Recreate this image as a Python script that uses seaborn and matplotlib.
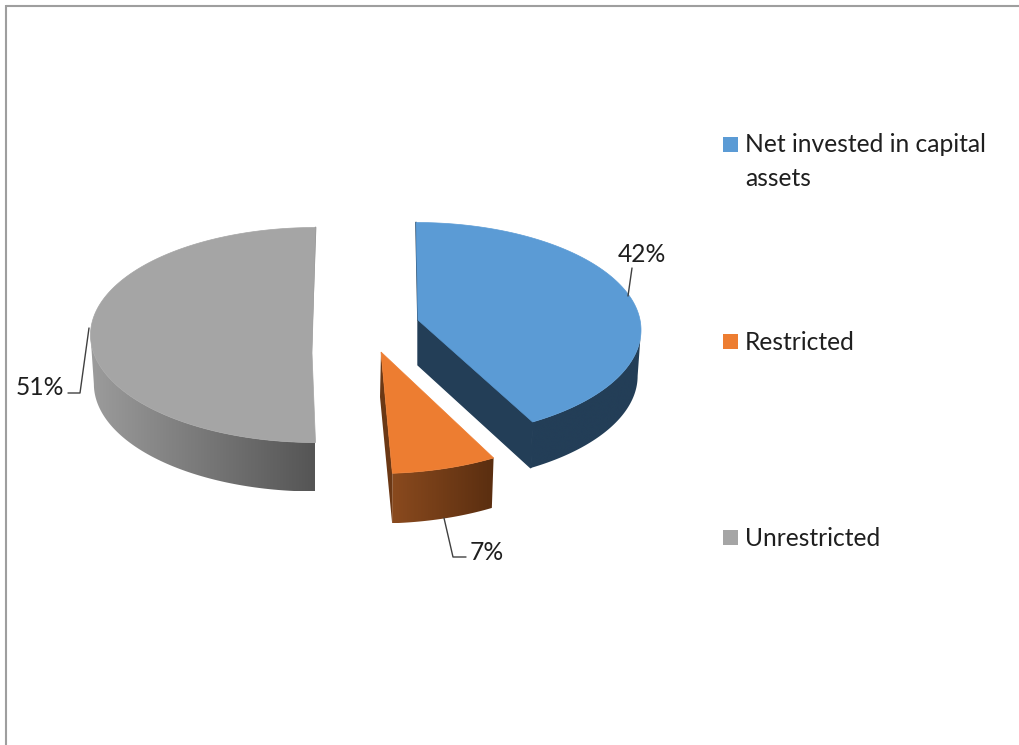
import numpy as np
import matplotlib
matplotlib.use("Agg")
import matplotlib.pyplot as plt
from matplotlib.colors import LinearSegmentedColormap
from matplotlib.patches import Polygon, Rectangle
import seaborn as sns

# Net position shares
categories = ["Net invested in capital\nassets", "Restricted", "Unrestricted"]
shares = [42, 7, 51]
value_labels = ["42%", "7%", "51%"]

sns.set_theme(style="white")
plt.rcParams["font.family"] = ["Lato", "DejaVu Sans"]
palette = sns.color_palette(["#5B9BD5", "#ED7D31", "#A5A5A5"])

# Side shading per slice, left to right
side_shades = [("#233E57", "#233E57"), ("#8A4A1E", "#5A2E10"), ("#9C9C9C", "#555555")]
cut_shades = ["#233E57", "#6B3815", "#8A8A8A"]

# Layout of each exploded slice, in figure pixels
centers = [(416, 330), (377, 366), (315.5, 335)]
apexes = [(418, 320), (381, 352), (312, 353)]
depths = [46, 50, 49]
RX, RY = 225, 107.5
BOTTOM_SHRINK = 0.985
TILT = np.radians(5)

fig = plt.figure(figsize=(10.19, 7.45), dpi=100)
ax = fig.add_axes([0, 0, 1, 1])
ax.set_axis_off()


def warp(theta):
    """Foreshortening of the clockwise angle measured from 12 o'clock."""
    return theta - TILT * np.sin(theta)


def rim(center, phi, shrink=1.0, drop=0.0):
    x = center[0] + RX * shrink * np.sin(phi)
    y = center[1] + drop - RY * np.cos(phi)
    return np.column_stack([x, y])


edges = np.radians(np.cumsum([0] + shares) * 3.6)

for i, share in enumerate(shares):
    phi0, phi1 = warp(edges[i]), warp(edges[i + 1])
    if i == 2:
        # Perspective flattens the largest slice: its cut edge stays at 6 o'clock
        phi0 = max(phi0, np.pi)
    center, apex, depth = centers[i], apexes[i], depths[i]
    arc = np.linspace(phi0, phi1, 240)

    # Outer wall: only the part of the rim that faces the viewer
    lo, hi = max(phi0, np.pi / 2), min(phi1, 3 * np.pi / 2)
    visible = np.linspace(lo, hi, 160)
    wall = np.vstack([rim(center, visible),
                      rim(center, visible[::-1], BOTTOM_SHRINK, depth)])
    cmap = LinearSegmentedColormap.from_list(f"wall{i}", side_shades[i])
    x_left, x_right = wall[:, 0].min(), wall[:, 0].max()
    grad = np.linspace(0, 1, 256).reshape(1, -1)
    img = ax.imshow(grad, cmap=cmap, aspect="auto", interpolation="bilinear",
                    extent=(x_left, x_right, wall[:, 1].max(), wall[:, 1].min()), zorder=2)
    patch = Polygon(wall, closed=True, transform=ax.transData, fc="none", ec="none")
    ax.add_patch(patch)
    img.set_clip_path(patch)

    # Cut faces
    if i < 2:
        end = rim(center, np.array([phi1]))[0]
        end_low = rim(center, np.array([phi1]), BOTTOM_SHRINK, depth)[0]
        # The blue face is outlined in its own colour so no seam shows against the wall
        ax.add_patch(Polygon([apex, (apex[0] - i, apex[1] + 45), end_low, end],
                             fc=cut_shades[i], ec=cut_shades[i] if i == 0 else "none",
                             lw=1.0, zorder=3))
    if i == 0:
        start = rim(center, np.array([phi0]))[0]
        ax.plot([start[0], apex[0]], [start[1], apex[1]], color=cut_shades[i], lw=1.2, zorder=3)
    elif i == 2:
        start = rim(center, np.array([phi1]))[0]
        ax.plot([start[0], apex[0] - 1], [start[1], apex[1]], color=cut_shades[i], lw=1.2, zorder=3)

    # Top face
    top = np.vstack([[apex], rim(center, arc)])
    ax.add_patch(Polygon(top, closed=True, fc=palette[i], ec=palette[i], lw=0.5, zorder=4))

# Leader lines and value labels
leader_x = [[628, 632], [444, 453, 466], [89, 80, 68]]
leader_y = [[296, 268], [518, 557, 557], [328, 393, 393]]
label_pos = [(641.5, 254.5), (486.5, 552.5), (40, 387.5)]
for lx, ly, pos, text in zip(leader_x, leader_y, label_pos, value_labels):
    ax.plot(lx, ly, color="#404040", lw=1, zorder=5)
    ax.text(*pos, text, ha="center", va="center", fontsize=17.7, color="#1F1F1F", zorder=6)

# Legend column
legend_y = [144, 341, 537]
legend_text_y = [161.5, 342.5, 538.5]
for name, colour, ys, ty in zip(categories, palette, legend_y, legend_text_y):
    ax.add_patch(Rectangle((723, ys - 7.5), 15, 15, fc=colour, ec="none", zorder=5))
    ax.text(745, ty, name, ha="left", va="center", fontsize=17.7, color="#1F1F1F",
            linespacing=1.53, zorder=6)

# Chart-area border: only the top and left edges fall inside the frame
ax.plot([6, 1019], [5.5, 5.5], color="#9E9E9E", lw=1.5, zorder=1, solid_capstyle="butt")
ax.plot([6.5, 6.5], [5, 745], color="#9E9E9E", lw=1.5, zorder=1, solid_capstyle="butt")

ax.set_xlim(0, 1019)
ax.set_ylim(745, 0)
fig.savefig("out.png", dpi=100, facecolor="white")
